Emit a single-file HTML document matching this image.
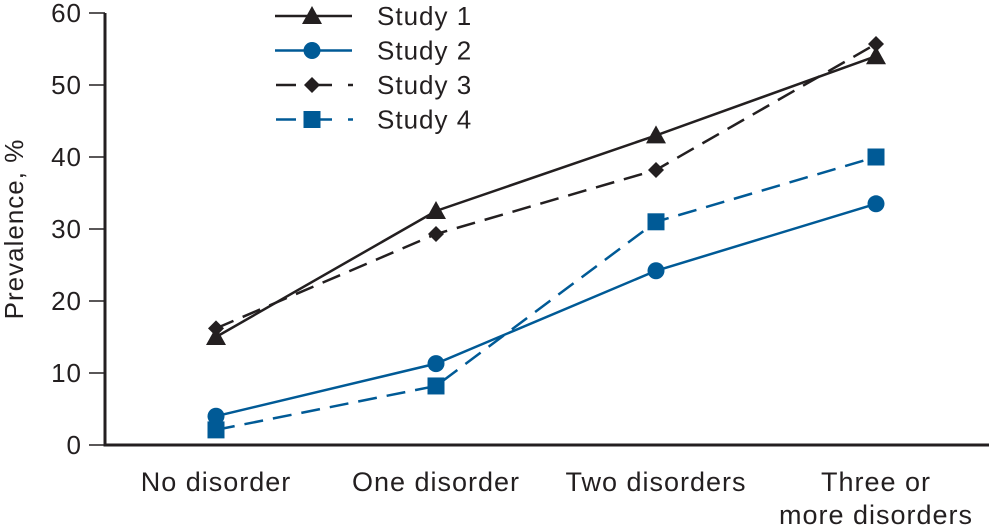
<!DOCTYPE html>
<html><head><meta charset="utf-8"><style>
html,body{margin:0;padding:0;background:#fff}
svg text{font-family:"Liberation Sans",sans-serif;fill:#231f20;letter-spacing:1px}
</style></head><body>
<svg id="chart" width="989" height="527" viewBox="0 0 989 527"></svg>
<script>
const categories=["No disorder","One disorder","Two disorders","Three or|more disorders"];
const study1=[15,32.5,43,54];
const study2=[4,11.3,24.2,33.5];
const study3=[16.2,29.3,38.2,55.7];
const study4=[2.1,8.2,31,40];
const yTicks=[0,10,20,30,40,50,60];
const seriesNames=["Study 1","Study 2","Study 3","Study 4"];

const NS="http://www.w3.org/2000/svg";
const svg=document.getElementById('chart');
const BLACK="#231f20",BLUE="#005a96";
const y0=445,y60=13,xL=105,xR=990;
function ys(v){return y0-(v/60)*(y0-y60);}
function xs(i){return 216+i*220;}
function mk(tag,attrs,parent){const e=document.createElementNS(NS,tag);for(const k in attrs)e.setAttribute(k,attrs[k]);(parent||svg).appendChild(e);return e;}

let g=mk('g',{});


mk('line',{x1:xL,y1:y60,x2:xL,y2:y0+1.5,stroke:BLACK,'stroke-width':3},g);
yTicks.forEach(t=>{
  mk('line',{x1:89,y1:ys(t),x2:xL,y2:ys(t),stroke:BLACK,'stroke-width':1.5},g);
  const tx=mk('text',{x:82,y:ys(t)+9,'text-anchor':'end','font-size':26},g);
  tx.textContent=t;
  
  
});
let yt=mk('text',{x:0,y:0,'text-anchor':'middle','font-size':26,transform:'translate(23,229) rotate(-90)'});
yt.textContent="Prevalence, %";


let gx=mk('g',{});


mk('line',{x1:xL,y1:y0,x2:xR,y2:y0,stroke:BLACK,'stroke-width':3},gx);
categories.forEach((c,i)=>{
  const parts=c.split('|');
  parts.forEach((p,j)=>{
    const tx=mk('text',{x:xs(i),y:491+j*33,'text-anchor':'middle','font-size':27},gx);
    tx.textContent=p;
    
    
  });
});

function marker(type,x,y,color,parent){
  if(type==='tri') return mk('polygon',{points:`${x},${y-10} ${x-10},${y+8} ${x+10},${y+8}`,fill:color},parent);
  if(type==='circ') return mk('circle',{cx:x,cy:y,r:8.5,fill:color},parent);
  if(type==='dia') return mk('polygon',{points:`${x},${y-8} ${x+8},${y} ${x},${y+8} ${x-8},${y}`,fill:color},parent);
  return mk('rect',{x:x-8.5,y:y-8.5,width:17,height:17,fill:color},parent);
}
const series=[
 {vals:study1,color:BLACK,dash:null,m:'tri',name:'study-1'},
 {vals:study2,color:BLUE,dash:null,m:'circ',name:'study-2'},
 {vals:study3,color:BLACK,dash:'19,10',m:'dia',name:'study-3'},
 {vals:study4,color:BLUE,dash:'19,10',m:'sq',name:'study-4'}];
series.forEach((s,k)=>{
  const sg=mk('g',{});
  
  
  const pts=s.vals.map((v,i)=>xs(i)+','+ys(v)).join(' ');
  const a={points:pts,fill:'none',stroke:s.color,'stroke-width':2.5};
  if(s.dash)a['stroke-dasharray']=s.dash;
  mk('polyline',a,sg);
  s.vals.forEach((v,i)=>{
    const p=marker(s.m,xs(i),ys(v),s.color,sg);
    
    
  });
  const lg=mk('g',{});
  
  
  const ly=16+k*34.5;
  if(s.dash){
    mk('line',{x1:276,y1:ly,x2:296,y2:ly,stroke:s.color,'stroke-width':2.5},lg);
    mk('line',{x1:312,y1:ly,x2:332,y2:ly,stroke:s.color,'stroke-width':2.5},lg);
    mk('line',{x1:348,y1:ly,x2:353,y2:ly,stroke:s.color,'stroke-width':2.5},lg);
  } else mk('line',{x1:275,y1:ly,x2:352,y2:ly,stroke:s.color,'stroke-width':2.5},lg);
  marker(s.m,312,ly,s.color,lg);
  const t=mk('text',{x:377,y:ly+9,'font-size':26},lg);
  t.textContent=seriesNames[k];
});
</script>
</body></html>
